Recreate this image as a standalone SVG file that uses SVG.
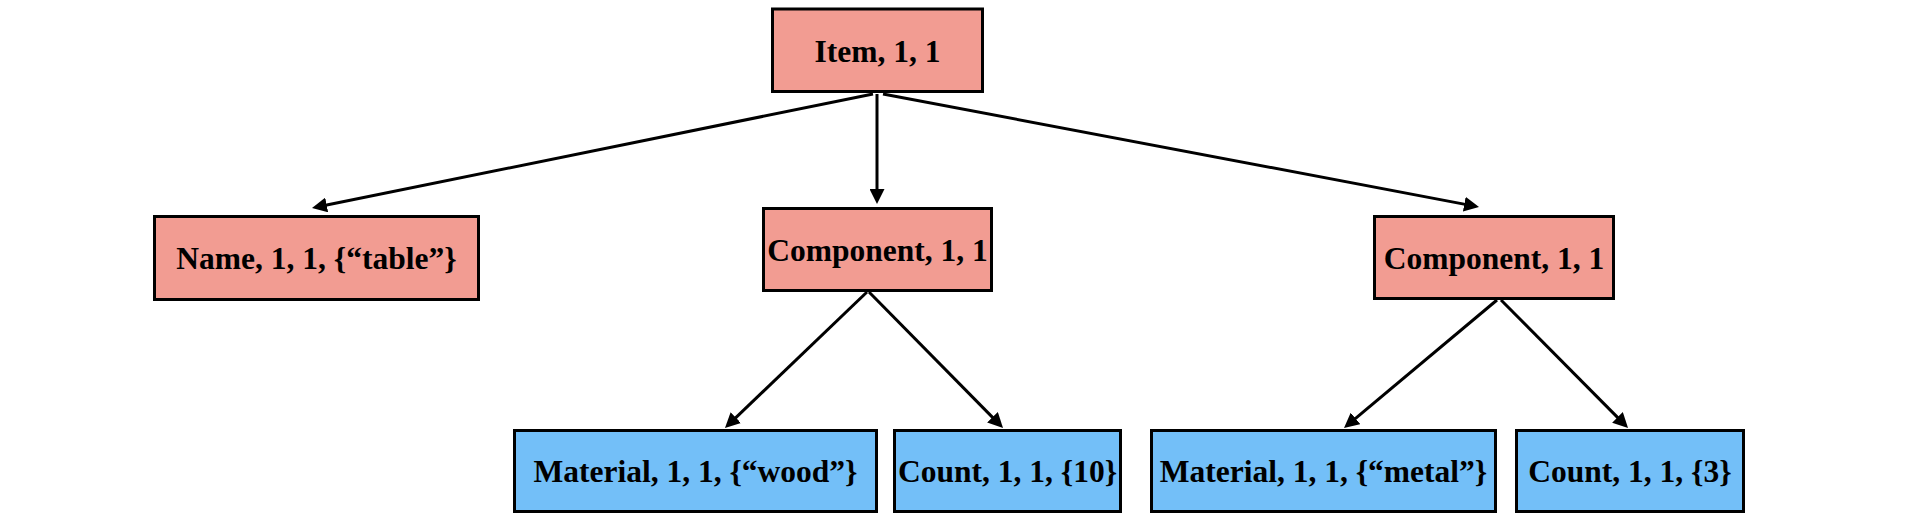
<svg xmlns="http://www.w3.org/2000/svg" width="1913" height="515" viewBox="0 0 1913 515">
<style>
.box{stroke:#000;stroke-width:3}
.red{fill:#F29C92}
.blue{fill:#73BFF8}
.lbl{font-family:"Liberation Serif","Times New Roman",serif;font-weight:bold;font-size:31.5px;fill:#000;text-anchor:middle}
.edge{stroke:#000;stroke-width:3;fill:none;marker-end:url(#arr)}
</style>
<defs>
<marker id="arr" markerUnits="userSpaceOnUse" markerWidth="15" markerHeight="15" refX="5" refY="7.5" orient="auto">
<path d="M0,0 L15,7.5 L0,15 z" fill="#000"/>
</marker>
</defs>
<rect width="1913" height="515" fill="#fff"/>
<g id="connectors">
<line class="edge" x1="873" y1="94" x2="321.8" y2="206"/>
<line class="edge" x1="877" y1="94" x2="877" y2="194"/>
<line class="edge" x1="883" y1="94" x2="1469.2" y2="205.1"/>
<line class="edge" x1="867" y1="292" x2="732.2" y2="421.1"/>
<line class="edge" x1="869" y1="292" x2="996" y2="420.9"/>
<line class="edge" x1="1497" y1="300" x2="1351.7" y2="421.6"/>
<line class="edge" x1="1501" y1="300" x2="1621" y2="420.9"/>
</g>
<g id="item">
<rect class="box red" x="772.5" y="9" width="210" height="82.5"/>
<text class="lbl" x="877.5" y="61.5">Item, 1, 1</text>
</g>
<g id="name">
<rect class="box red" x="154.5" y="216.5" width="324" height="83"/>
<text class="lbl" x="316.5" y="269">Name, 1, 1, {“table”}</text>
</g>
<g id="component1">
<rect class="box red" x="763.5" y="208.5" width="228" height="82"/>
<text class="lbl" x="877.5" y="260.5">Component, 1, 1</text>
</g>
<g id="component2">
<rect class="box red" x="1374.5" y="216.5" width="239" height="82"/>
<text class="lbl" x="1494" y="268.5">Component, 1, 1</text>
</g>
<g id="material-wood">
<rect class="box blue" x="514.5" y="430.5" width="362" height="81"/>
<text class="lbl" x="695.5" y="482">Material, 1, 1, {“wood”}</text>
</g>
<g id="count-10">
<rect class="box blue" x="894.5" y="430.5" width="226" height="81"/>
<text class="lbl" x="1007.5" y="482">Count, 1, 1, {10}</text>
</g>
<g id="material-metal">
<rect class="box blue" x="1151.5" y="430.5" width="344" height="81"/>
<text class="lbl" x="1323.5" y="482">Material, 1, 1, {“metal”}</text>
</g>
<g id="count-3">
<rect class="box blue" x="1516.5" y="430.5" width="227" height="81"/>
<text class="lbl" x="1630" y="482">Count, 1, 1, {3}</text>
</g>
</svg>
